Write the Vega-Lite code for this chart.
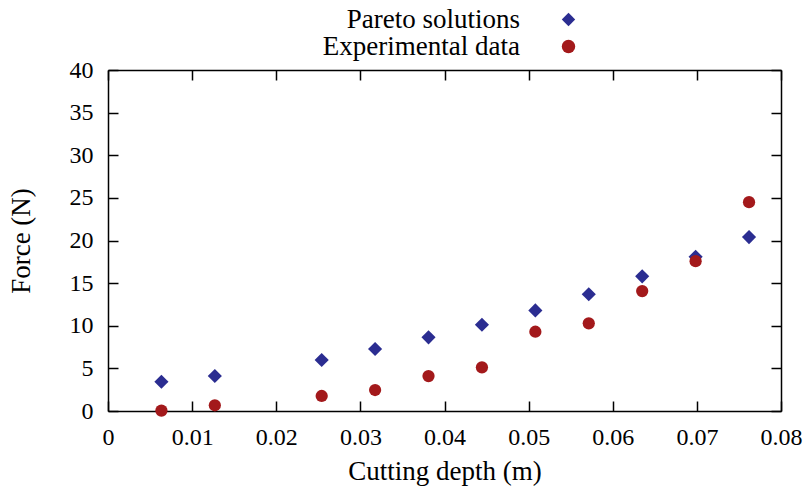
{
  "$schema": "https://vega.github.io/schema/vega-lite/v6.json",
  "width": 673,
  "height": 341,
  "autosize": {"type": "none"},
  "padding": {"left": 108, "top": 70, "right": 31, "bottom": 77},
  "background": "white",
  "config": {
    "font": "Liberation Serif, DejaVu Serif, serif",
    "view": {"stroke": null},
    "axis": {
      "grid": false,
      "domainColor": "#000",
      "domainWidth": 1.5,
      "tickColor": "#000",
      "tickWidth": 1.5,
      "tickSize": -10,
      "labelFont": "Liberation Serif, DejaVu Serif, serif"
    },
    "legend": {
      "labelFont": "Liberation Serif, DejaVu Serif, serif",
      "labelFontSize": 27,
      "labelColor": "#000"
    }
  },
  "data": {
    "values": [
      {"depth": 0.00635, "force": 3.43, "series": "Pareto solutions"},
      {"depth": 0.0127, "force": 4.1, "series": "Pareto solutions"},
      {"depth": 0.0254, "force": 5.98, "series": "Pareto solutions"},
      {"depth": 0.03175, "force": 7.27, "series": "Pareto solutions"},
      {"depth": 0.0381, "force": 8.64, "series": "Pareto solutions"},
      {"depth": 0.04445, "force": 10.12, "series": "Pareto solutions"},
      {"depth": 0.0508, "force": 11.8, "series": "Pareto solutions"},
      {"depth": 0.05715, "force": 13.7, "series": "Pareto solutions"},
      {"depth": 0.0635, "force": 15.8, "series": "Pareto solutions"},
      {"depth": 0.06985, "force": 18.09, "series": "Pareto solutions"},
      {"depth": 0.0762, "force": 20.4, "series": "Pareto solutions"},
      {"depth": 0.00635, "force": 0.05, "series": "Experimental data"},
      {"depth": 0.0127, "force": 0.67, "series": "Experimental data"},
      {"depth": 0.0254, "force": 1.76, "series": "Experimental data"},
      {"depth": 0.03175, "force": 2.46, "series": "Experimental data"},
      {"depth": 0.0381, "force": 4.1, "series": "Experimental data"},
      {"depth": 0.04445, "force": 5.12, "series": "Experimental data"},
      {"depth": 0.0508, "force": 9.3, "series": "Experimental data"},
      {"depth": 0.05715, "force": 10.28, "series": "Experimental data"},
      {"depth": 0.0635, "force": 14.07, "series": "Experimental data"},
      {"depth": 0.06985, "force": 17.58, "series": "Experimental data"},
      {"depth": 0.0762, "force": 24.5, "series": "Experimental data"}
    ]
  },
  "resolve": {"axis": {"x": "independent", "y": "independent"}},
  "layer": [
    {
      "transform": [{"filter": "datum.series === 'Pareto solutions'"}],
      "mark": {"type": "point", "filled": true, "size": 200, "opacity": 1},
      "encoding": {
        "x": {
          "field": "depth", "type": "quantitative",
          "scale": {"domain": [0, 0.08], "nice": false, "zero": false},
          "axis": {"orient": "bottom", "title": "Cutting depth (m)", "format": "~g", "values": [0, 0.01, 0.02, 0.03, 0.04, 0.05, 0.06, 0.07, 0.08], "labelPadding": 24, "titlePadding": 9, "labelFlush": false,
            "labelFont": "Liberation Serif", "labelFontSize": 24, "labelColor": "#000",
            "titleFont": "Liberation Serif, DejaVu Serif, serif", "titleFontSize": 27, "titleFontWeight": "normal", "titleColor": "#000"}
        },
        "y": {
          "field": "force", "type": "quantitative",
          "scale": {"domain": [0, 40], "nice": false},
          "axis": {"orient": "left", "title": "Force (N)", "values": [0, 5, 10, 15, 20, 25, 30, 35, 40], "labelPadding": 25, "titlePadding": 34,
            "labelFont": "Liberation Serif", "labelFontSize": 24, "labelColor": "#000",
            "titleFont": "Liberation Serif, DejaVu Serif, serif", "titleFontSize": 27, "titleFontWeight": "normal", "titleColor": "#000"}
        },
        "color": {
          "field": "series", "type": "nominal",
          "scale": {"domain": ["Pareto solutions", "Experimental data"], "range": ["#2b2d91", "#a3191b"]},
          "legend": {"title": null, "orient": "none", "legendX": 447, "legendY": -64, "direction": "vertical", "labelAlign": "right", "labelOffset": -62, "symbolSize": 180, "rowPadding": -2, "symbolOpacity": 1, "labelLimit": 0}
        },
        "shape": {
          "field": "series", "type": "nominal",
          "scale": {"domain": ["Pareto solutions", "Experimental data"], "range": ["diamond", "circle"]},
          "legend": {"title": null, "orient": "none", "legendX": 447, "legendY": -64, "direction": "vertical", "labelAlign": "right", "labelOffset": -62, "symbolSize": 180, "rowPadding": -2, "symbolOpacity": 1, "labelLimit": 0}
        }
      }
    },
    {
      "transform": [{"filter": "datum.series === 'Experimental data'"}],
      "mark": {"type": "point", "filled": true, "size": 150, "opacity": 1},
      "encoding": {
        "x": {
          "field": "depth", "type": "quantitative",
          "axis": {"orient": "top", "title": null, "labels": false, "values": [0, 0.01, 0.02, 0.03, 0.04, 0.05, 0.06, 0.07, 0.08]}
        },
        "y": {
          "field": "force", "type": "quantitative",
          "axis": {"orient": "right", "title": null, "labels": false, "values": [0, 5, 10, 15, 20, 25, 30, 35, 40]}
        },
        "color": {"field": "series", "type": "nominal"},
        "shape": {"field": "series", "type": "nominal"}
      }
    }
  ]
}
